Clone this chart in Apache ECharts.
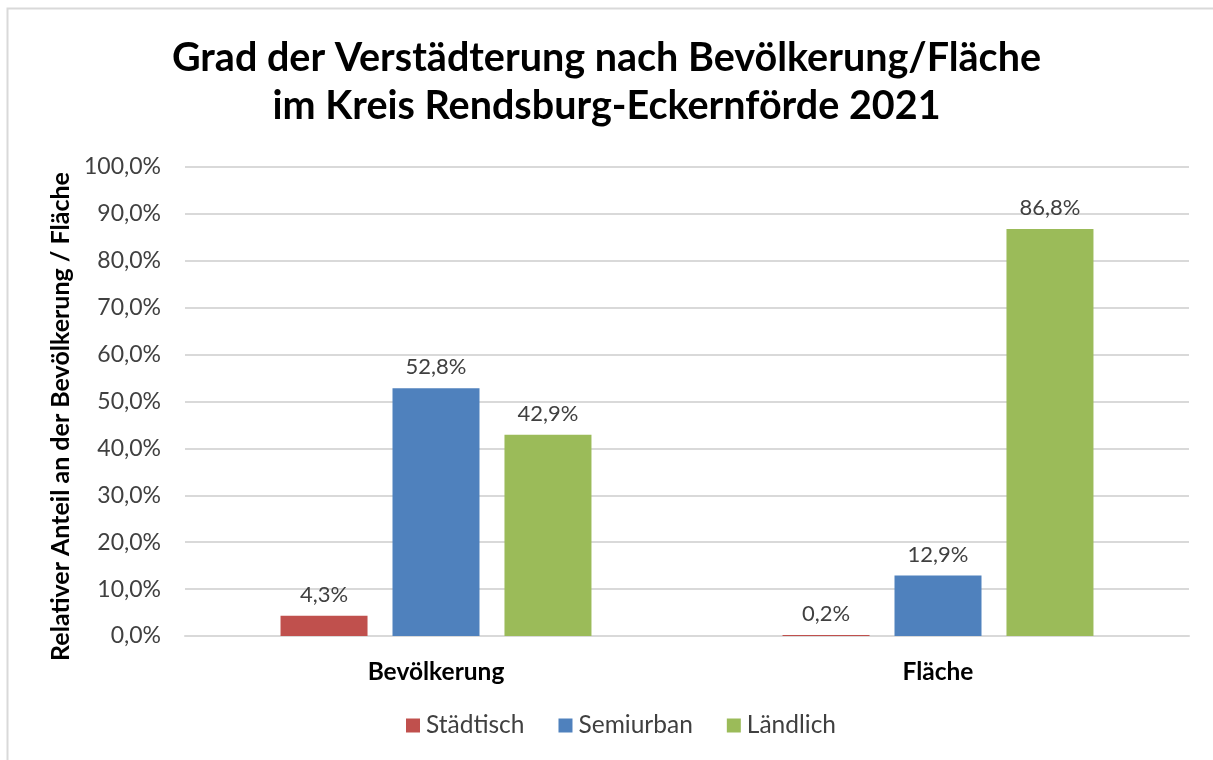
<!DOCTYPE html>
<html>
<head>
<meta charset="utf-8">
<title>Grad der Verstädterung</title>
<style>
  html, body { margin: 0; padding: 0; background: #fff; }
  #chart { width: 1213px; height: 760px; }
</style>
</head>
<body>
<div id="chart"></div>
<script src="https://cdn.jsdelivr.net/npm/echarts@6/dist/echarts.min.js"></script>
<script>
var categories = ['Bevölkerung', 'Fläche'];
var seriesNames = ['Städtisch', 'Semiurban', 'Ländlich'];
var staedtisch = [4.3, 0.2];
var semiurban = [52.8, 12.9];
var laendlich = [42.9, 86.8];
var colors = ['#C0504D', '#4F81BD', '#9BBB59'];

var font = 'Lato, "Open Sans", sans-serif';

function pct(v) {
  return v.toFixed(1).replace('.', ',') + '%';
}

function makeSeries(name, data, color) {
  return {
    name: name,
    type: 'bar',
    data: data,
    barWidth: 87,
    barGap: '28.7%',
    itemStyle: { color: color },
    label: {
      show: true,
      position: 'top',
      distance: 10,
      color: '#404040',
      fontFamily: font,
      fontSize: 22,
      formatter: function (p) { return pct(p.value); }
    }
  };
}

var chart = echarts.init(document.getElementById('chart'));
chart.setOption({
  backgroundColor: '#fff',
  animation: false,
  color: colors,
  graphic: [{
    type: 'polyline',
    shape: { points: [[7.5, 770], [7.5, 8.5], [1220, 8.5]] },
    style: { fill: 'none', stroke: '#d9d9d9', lineWidth: 2 }
  }],
  title: {
    text: 'Grad der Verstädterung nach Bevölkerung/Fläche\nim Kreis Rendsburg-Eckernförde 2021',
    left: 'center',
    top: 29,
    textStyle: {
      fontFamily: font,
      fontSize: 39.5,
      fontWeight: 'bold',
      color: '#000',
      lineHeight: 48
    }
  },
  legend: {
    bottom: 17,
    left: 401,
    itemWidth: 14,
    itemHeight: 14,
    itemGap: 34,
    icon: 'rect',
    textStyle: { fontFamily: font, fontSize: 24.5, color: '#404040', padding: [0, 0, 0, 1] },
    data: seriesNames
  },
  grid: { left: 185, right: 24, top: 167, bottom: 124 },
  xAxis: {
    type: 'category',
    data: categories,
    axisLine: { show: true, lineStyle: { color: '#d9d9d9', width: 2 } },
    axisTick: { show: false },
    axisLabel: {
      margin: 24,
      fontFamily: font,
      fontSize: 24.5,
      fontWeight: 'bold',
      color: '#000'
    }
  },
  yAxis: {
    type: 'value',
    min: 0,
    max: 100,
    interval: 10,
    name: 'Relativer Anteil an der Bevölkerung / Fläche',
    nameLocation: 'middle',
    nameGap: 112,
    nameTextStyle: {
      fontFamily: font,
      fontSize: 25,
      fontWeight: 'bold',
      color: '#000',
      padding: [0, 30, 0, 0]
    },
    axisLine: { show: false },
    axisTick: { show: false },
    axisLabel: {
      margin: 24,
      fontFamily: font,
      fontSize: 23,
      color: '#404040',
      formatter: function (v) { return pct(v); }
    },
    splitLine: { lineStyle: { color: '#d9d9d9', width: 2 } }
  },
  series: [
    makeSeries(seriesNames[0], staedtisch, colors[0]),
    makeSeries(seriesNames[1], semiurban, colors[1]),
    makeSeries(seriesNames[2], laendlich, colors[2])
  ]
});
</script>
</body>
</html>
